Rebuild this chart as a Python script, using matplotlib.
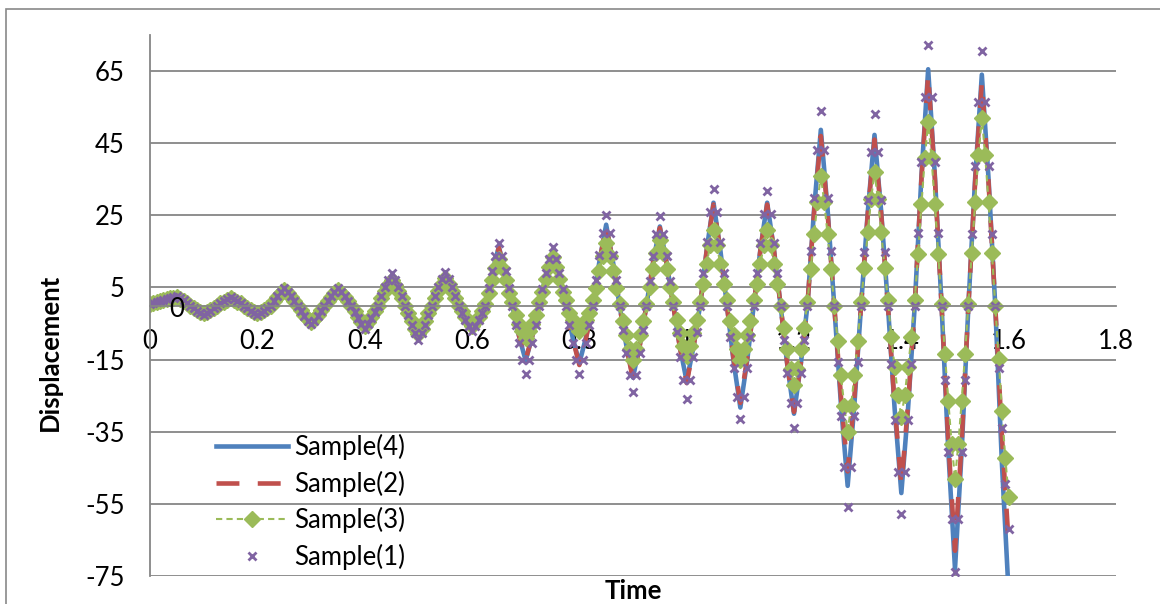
import matplotlib
matplotlib.use('Agg')
import matplotlib.pyplot as plt
import numpy as np
from matplotlib.patches import Rectangle

# line samples every 0.0125 s, marker samples every 0.00625 s (0 .. 1.6)
times = np.linspace(0, 1.6, 129)
times_fine = np.linspace(0, 1.6, 257)

sample4 = [0.3, 0.8, 1.3, 1.9, 2.3,
           1.3, 0.0, -1.2, -2.2, -1.2, 0.0, 1.1, 2.0,
           1.1, 0.0, -1.2, -2.2, -1.2, 0.0, 2.3, 4.2,
           2.3, 0.0, -2.5, -4.6, -2.5, 0.0, 2.3, 4.2,
           2.3, 0.0, -3.1, -5.6, -3.1, 0.0, 4.4, 8.0,
           4.4, 0.0, -5.0, -9.0, -5.0, 0.0, 4.7, 8.5,
           4.7, 0.0, -3.6, -6.5, -3.6, 0.0, 9.0, 16.3,
           9.0, 0.0, -8.4, -15.3, -8.4, 0.0, 8.3, 15.0,
           8.3, 0.0, -8.8, -16.0, -8.8, 0.0, 12.3, 22.4,
           12.3, 0.0, -11.0, -20.0, -11.0, 0.0, 12.0, 21.9,
           12.0, 0.0, -11.6, -21.0, -11.6, 0.0, 15.7, 28.5,
           15.7, 0.0, -15.6, -28.3, -15.6, 0.0, 15.7, 28.5,
           15.7, 0.0, -16.5, -30.0, -16.5, 0.0, 26.8, 48.7,
           26.8, 0.0, -27.5, -50.0, -27.5, 0.0, 26.0, 47.3,
           26.0, 0.0, -28.6, -52.0, -28.6, 0.0, 36.0, 65.5,
           36.0, 0.0, -40.2, -73.0, -40.2, 0.0, 35.2, 64.0,
           35.2, 0.0, -44.0, -80.0]

sample2 = [0.3, 0.8, 1.3, 1.9, 2.3,
           1.3, 0.0, -1.2, -2.2, -1.2, 0.0, 1.1, 2.0,
           1.1, 0.0, -1.2, -2.2, -1.2, 0.0, 2.3, 4.2,
           2.3, 0.0, -2.5, -4.6, -2.5, 0.0, 2.3, 4.2,
           2.3, 0.0, -3.1, -5.6, -3.1, 0.0, 4.4, 8.0,
           4.4, 0.0, -5.0, -9.0, -5.0, 0.0, 4.7, 8.5,
           4.7, 0.0, -3.6, -6.5, -3.6, 0.0, 8.8, 16.0,
           8.8, 0.0, -8.3, -15.0, -8.3, 0.0, 8.3, 15.0,
           8.3, 0.0, -9.1, -16.5, -9.1, 0.0, 12.1, 22.0,
           12.1, 0.0, -11.3, -20.5, -11.3, 0.0, 11.8, 21.5,
           11.8, 0.0, -11.8, -21.5, -11.8, 0.0, 15.4, 28.0,
           15.4, 0.0, -14.9, -27.0, -14.9, 0.0, 15.4, 28.0,
           15.4, 0.0, -16.2, -29.5, -16.2, 0.0, 25.9, 47.0,
           25.9, 0.0, -25.3, -46.0, -25.3, 0.0, 25.3, 46.0,
           25.3, 0.0, -27.5, -50.0, -27.5, 0.0, 35.2, 64.0,
           35.2, 0.0, -37.4, -68.0, -37.4, 0.0, 34.1, 62.0,
           34.1, 0.0, -36.3, -66.0]

sample3 = [0.3, 0.6, 0.9, 1.2, 1.5, 1.8, 2.0, 2.2, 2.4,
           1.9, 1.3, 0.7, 0.0, -0.6, -1.2, -1.8, -2.2,
           -1.8, -1.2, -0.6, 0.0, 0.6, 1.1, 1.6, 2.0,
           1.6, 1.1, 0.6, 0.0, -0.6, -1.2, -1.8, -2.2,
           -1.8, -1.2, -0.6, 0.0, 1.2, 2.3, 3.4, 4.2,
           3.4, 2.3, 1.2, 0.0, -1.3, -2.5, -3.7, -4.6,
           -3.7, -2.5, -1.3, 0.0, 1.2, 2.3, 3.4, 4.2,
           3.4, 2.3, 1.2, 0.0, -1.6, -3.2, -4.6, -5.8,
           -4.6, -3.2, -1.6, 0.0, 2.0, 3.9, 5.6, 7.0,
           5.6, 3.9, 2.0, 0.0, -2.2, -4.4, -6.4, -8.0,
           -6.4, -4.4, -2.2, 0.0, 2.1, 4.1, 6.0, 7.5,
           6.0, 4.1, 2.1, 0.0, -1.6, -3.2, -4.6, -5.8,
           -4.6, -3.2, -1.6, 0.5, 3.6, 7.2, 10.4, 13.0,
           10.4, 7.2, 3.6, 1.0, -2.5, -5.0, -7.2, -9.0,
           -7.2, -5.0, -2.5, 1.0, 3.8, 7.4, 10.8, 13.5,
           10.8, 7.4, 3.8, 1.5, -2.0, -3.9, -5.6, -7.0,
           -5.6, -3.9, -2.0, 1.5, 4.8, 9.5, 13.8, 17.3,
           13.8, 9.5, 4.8, 0.5, -4.2, -8.3, -12.0, -15.0,
           -12.0, -8.3, -4.2, 0.5, 5.1, 10.0, 14.6, 18.2,
           14.6, 10.0, 5.1, 1.0, -3.9, -7.7, -11.2, -14.0,
           -11.2, -7.7, -3.9, 1.0, 5.9, 11.6, 16.8, 21.0,
           16.8, 11.6, 5.9, 1.5, -4.2, -8.3, -12.0, -15.0,
           -12.0, -8.3, -4.2, 1.5, 5.9, 11.6, 16.8, 21.0,
           16.8, 11.6, 5.9, 0.0, -6.2, -12.1, -17.6, -22.0,
           -17.6, -12.1, -6.2, 1.0, 10.1, 19.8, 28.8, 36.0,
           28.8, 19.8, 10.1, 0.0, -9.8, -19.3, -28.0, -35.0,
           -28.0, -19.3, -9.8, 1.0, 10.4, 20.4, 29.6, 37.0,
           29.6, 20.4, 10.4, 1.5, -8.7, -17.1, -24.8, -31.0,
           -24.8, -17.1, -8.7, 1.5, 14.3, 28.1, 40.8, 51.0,
           40.8, 28.1, 14.3, 0.5, -13.4, -26.4, -38.4, -48.0,
           -38.4, -26.4, -13.4, 0.5, 14.6, 28.6, 41.6, 52.0,
           41.6, 28.6, 14.6, 0.0, -14.8, -29.2, -42.4, -53.0]

sample1 = [0.3, 0.6, 0.9, 1.2, 1.5, 1.8, 2.1, 2.4, 2.6,
           2.1, 1.4, 0.7, 0.0, -0.7, -1.4, -2.1, -2.6,
           -2.1, -1.4, -0.7, 0.0, 0.6, 1.3, 1.8, 2.3,
           1.8, 1.3, 0.6, 0.0, -0.7, -1.4, -2.1, -2.6,
           -2.1, -1.4, -0.7, 0.0, 1.3, 2.6, 3.8, 4.8,
           3.8, 2.6, 1.3, 0.0, -1.5, -2.9, -4.2, -5.2,
           -4.2, -2.9, -1.5, 0.0, 1.3, 2.6, 3.8, 4.8,
           3.8, 2.6, 1.3, 0.0, -1.8, -3.6, -5.2, -6.5,
           -5.2, -3.6, -1.8, 0.0, 2.5, 5.0, 7.2, 9.0,
           7.2, 5.0, 2.5, 0.0, -2.7, -5.3, -7.7, -9.6,
           -7.7, -5.3, -2.7, 0.0, 2.6, 5.1, 7.4, 9.3,
           7.4, 5.1, 2.6, 0.0, -2.0, -3.9, -5.6, -7.0,
           -5.6, -3.9, -2.0, 0.0, 4.8, 9.5, 13.8, 17.3,
           13.8, 9.5, 4.8, 0.0, -5.3, -10.5, -15.2, -19.0,
           -15.2, -10.5, -5.3, 0.0, 4.6, 9.0, 13.0, 16.3,
           13.0, 9.0, 4.6, 0.0, -5.3, -10.5, -15.2, -19.0,
           -15.2, -10.5, -5.3, 0.0, 7.1, 13.9, 20.2, 25.2,
           20.2, 13.9, 7.1, 0.0, -6.7, -13.2, -19.2, -24.0,
           -19.2, -13.2, -6.7, 0.0, 6.9, 13.6, 19.8, 24.7,
           19.8, 13.6, 6.9, 0.0, -7.3, -14.2, -20.7, -25.9,
           -20.7, -14.2, -7.3, 0.0, 9.0, 17.7, 25.8, 32.2,
           25.8, 17.7, 9.0, 0.0, -8.8, -17.4, -25.3, -31.6,
           -25.3, -17.4, -8.8, 0.0, 8.9, 17.4, 25.4, 31.7,
           25.4, 17.4, 8.9, 0.0, -9.5, -18.6, -27.1, -33.9,
           -27.1, -18.6, -9.5, 0.0, 15.1, 29.7, 43.2, 54.0,
           43.2, 29.7, 15.1, 0.0, -15.7, -30.7, -44.7, -55.9,
           -44.7, -30.7, -15.7, 0.0, 14.9, 29.2, 42.5, 53.1,
           42.5, 29.2, 14.9, 0.0, -16.2, -31.8, -46.2, -57.8,
           -46.2, -31.8, -16.2, 0.0, 20.2, 39.7, 57.7, 72.1,
           57.7, 39.7, 20.2, 0.0, -20.7, -40.6, -59.1, -73.9,
           -59.1, -40.6, -20.7, 0.0, 19.8, 38.8, 56.5, 70.6,
           56.5, 38.8, 19.8, 0.0, -17.4, -34.1, -49.6, -62.0]

xticks = [0, 0.2, 0.4, 0.6, 0.8, 1.0, 1.2, 1.4, 1.6, 1.8]
xlabels = ['0', '0.2', '0.4', '0.6', '0.8', '1', '1.2', '1.4', '1.6', '1.8']
yticks = [-75, -55, -35, -15, 5, 25, 45, 65]

plt.rcParams['font.family'] = ['Lato', 'DejaVu Sans']
plt.rcParams['axes.unicode_minus'] = False
grey = '#868686'
fs = 18.5

fig = plt.figure(figsize=(11.6, 6.04), dpi=100)
ax = fig.add_axes([150/1160, 1-576/604, 966/1160, 541/604])

ax.plot(times, sample4, color='#4F81BD', lw=3.3, label='Sample(4)', zorder=2)
ax.plot(times, sample2, color='#C0504D', lw=3.3, dashes=(5, 4), label='Sample(2)', zorder=2.1)
ax.plot(times_fine, sample3, color='#9BBB59', lw=1.5, dashes=(3, 2), marker='D', ms=8,
        mec='#9BBB59', label='Sample(3)', zorder=2.2)
ax.plot(times_fine, sample1, ls='none', marker='x', ms=5.5, mew=2, color='#8064A2',
        label='Sample(1)', zorder=2.3)

ax.set_xlim(0, 1.8)
ax.set_ylim(-75, 75)
ax.set_xticks(xticks)
ax.set_xticklabels(xlabels)
ax.set_yticks(yticks)
ax.grid(axis='y', color=grey, lw=1.3)
for s in ['top', 'right']:
    ax.spines[s].set_visible(False)
ax.spines['left'].set_color(grey)
ax.spines['left'].set_linewidth(1.3)
ax.spines['bottom'].set_position(('data', 0))
ax.spines['bottom'].set_color(grey)
ax.spines['bottom'].set_linewidth(1.3)
ax.tick_params(axis='x', length=0, labelsize=fs, pad=17)
ax.tick_params(axis='y', length=0, labelsize=fs, pad=18)

ax.text(0.05, -1, '0', fontsize=fs, ha='center', va='center')

ax.legend(loc='upper left', bbox_to_anchor=(0.068, 0.262), frameon=False, fontsize=fs,
          handlelength=2.8, handletextpad=0.27, labelspacing=0.4, borderpad=0,
          borderaxespad=0)

fig.text(50/1160, 1-352/604, 'Displacement', rotation=90, fontsize=fs,
         fontweight='bold', ha='center', va='center')
fig.text(633/1160, 1-591/604, 'Time', fontsize=fs, fontweight='bold',
         ha='center', va='center')

fig.patches.append(Rectangle((6/1160, -0.1), 2, 1.1 - 9/604, transform=fig.transFigure,
                             fill=False, ec='#898989', lw=1.2))

fig.savefig('out.png', dpi=100)
